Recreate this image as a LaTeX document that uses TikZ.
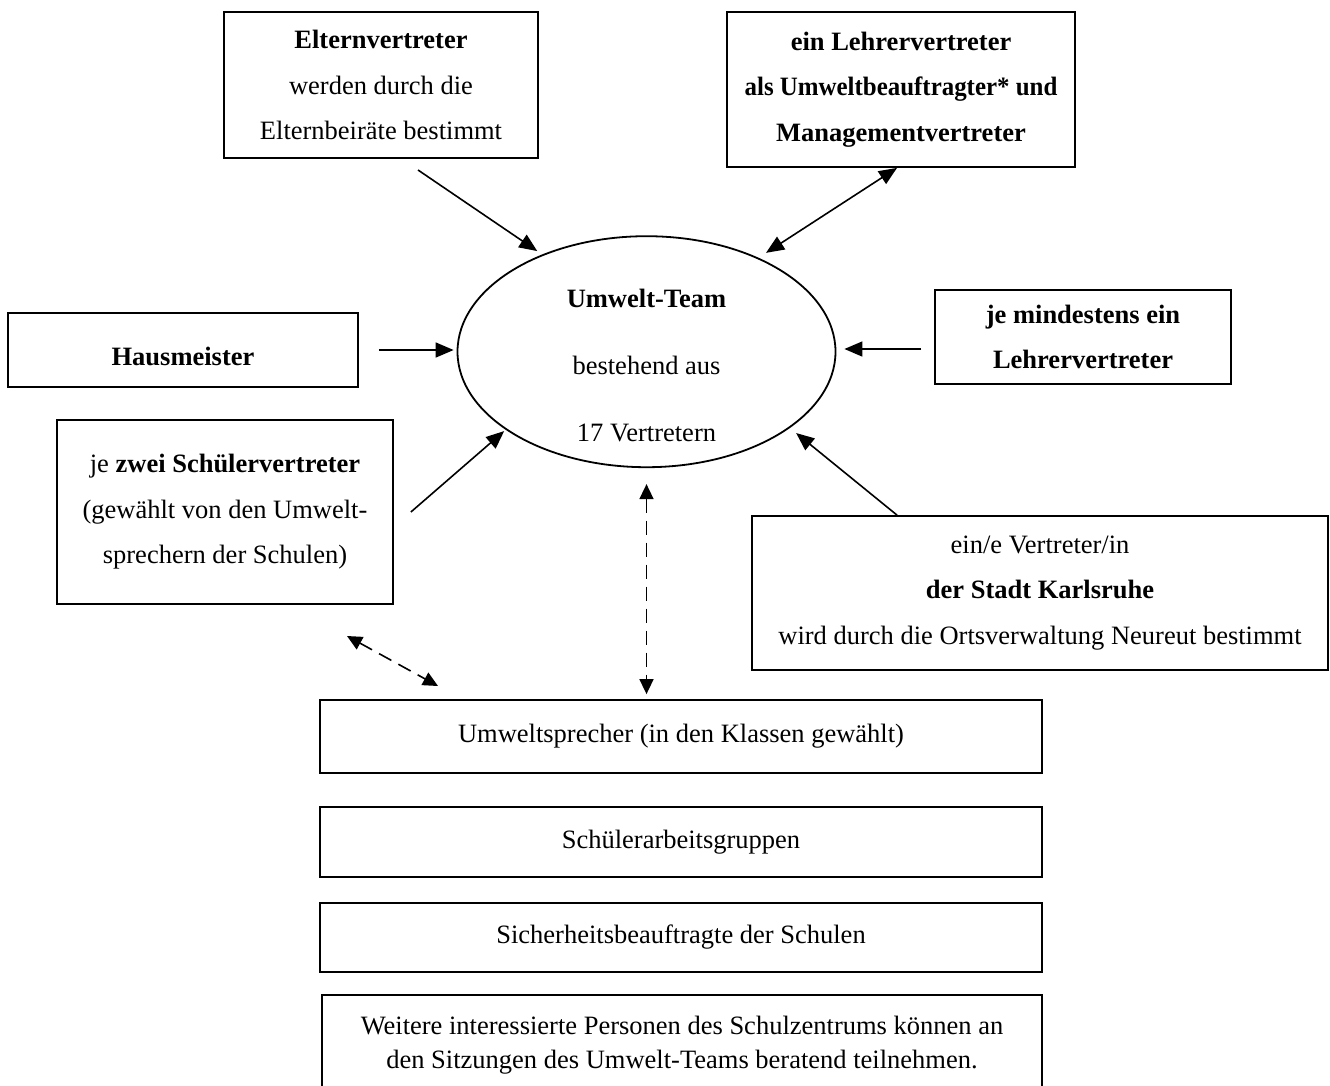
\documentclass[tikz,border=0pt]{standalone}
\usepackage{fontspec}
\setmainfont{Liberation Serif}
\usetikzlibrary{arrows.meta,shapes.geometric,calc}
\begin{document}
\begin{tikzpicture}[x=1pt,y=-1pt,
  box/.style={draw, line width=1.8pt, inner sep=0pt, align=center, font=\fontsize{26.5}{45.5}\selectfont},
  arr/.style={line width=1.6pt, -{Triangle[length=18pt,width=15pt]}},
  biarr/.style={line width=1.6pt, {Triangle[length=18pt,width=15pt]}-{Triangle[length=18pt,width=15pt]}},
  darr/.style={line width=1.6pt, dash pattern=on 14pt off 8pt, {Triangle[length=15pt,width=14pt]}-{Triangle[length=15pt,width=14pt]}}]
\clip (0,0) rectangle (1330,1085);
\fill[white] (0,0) rectangle (1330,1085);

% boxes
\node[box, minimum width=314pt, minimum height=146pt] (eltern) at (381,85)
  {\textbf{Elternvertreter}\\werden durch die\\Elternbeiräte bestimmt};
\node[box, minimum width=348pt, minimum height=155pt] (lehrer) at (901,89.5)
  {\textbf{ein Lehrervertreter}\\\scalebox{0.94}[1]{\textbf{als Umweltbeauftragter* und}}\\\textbf{Managementvertreter}};
\node[box, minimum width=350pt, minimum height=74pt] (haus) at (183,350)
  {\raisebox{-7pt}[17pt][0pt]{\textbf{Hausmeister}}};
\node[box, minimum width=296pt, minimum height=94pt] (mind) at (1083,337)
  {\textbf{je mindestens ein}\\\textbf{Lehrervertreter}};
\node[box, minimum width=336pt, minimum height=184pt] (schueler) at (225,512)
  {je \textbf{zwei Schülervertreter}\\(gewählt von den Umwelt-\\sprechern der Schulen)};
\node[box, minimum width=576pt, minimum height=154pt] (stadt) at (1040,593)
  {ein/e Vertreter/in\\\textbf{der Stadt Karlsruhe}\\wird durch die Ortsverwaltung Neureut bestimmt};
\node[box, minimum width=722pt, minimum height=73pt] (umwelt) at (681,736.5)
  {Umweltsprecher (in den Klassen gewählt)};
\node[box, minimum width=722pt, minimum height=70pt] (arbeit) at (681,842)
  {Schülerarbeitsgruppen};
\node[box, minimum width=722pt, minimum height=69pt] (sicher) at (681,937.5)
  {Sicherheitsbeauftragte der Schulen};
\node[box, minimum width=720pt, minimum height=100pt, font=\fontsize{26.5}{34}\selectfont] (weitere) at (682,1045)
  {Weitere interessierte Personen des Schulzentrums können an\\den Sitzungen des Umwelt-Teams beratend teilnehmen.};

% central ellipse
\node[ellipse, draw, line width=1.8pt, minimum width=378pt, minimum height=231pt, inner sep=0pt] (team) at (646.5,351.7) {};
\node[align=center, inner sep=0pt, font=\fontsize{26.5}{67}\selectfont] (teamtxt) at (646.5,365)
  {\textbf{Umwelt-Team}\\bestehend aus\\17 Vertretern};

% connector end points
\coordinate (e1) at (418,170);
\coordinate (l1) at ([xshift=-4pt]lehrer.south);
\coordinate (m1) at ([yshift=-12pt]mind.west);
\coordinate (s1) at ([xshift=17pt]schueler.east);
\coordinate (k1) at ([xshift=-143pt]stadt.north);
\coordinate (d1) at (347,636);
\coordinate (d2) at (438,686);

% connectors
\draw[arr, shorten >=6pt] (e1) -- (team.137.6);
\draw[biarr, shorten >=9pt] (l1) -- (team.40.6);
\draw[arr, shorten <=20pt, shorten >=3pt] (haus.east) -- (haus.east -| team.west);
\draw[arr, shorten <=13pt, shorten >=8pt] (m1) -- (m1 -| team.east);
\draw[arr, shorten >=2pt] (s1) -- (team.209.8);
\draw[arr, shorten >=8pt] (k1) -- (team.-28.3);
\draw[darr, shorten <=16pt, shorten >=5pt] (team.south) -- (team.south |- umwelt.north);
\draw[darr] (d1) -- (d2);
\end{tikzpicture}
\end{document}
